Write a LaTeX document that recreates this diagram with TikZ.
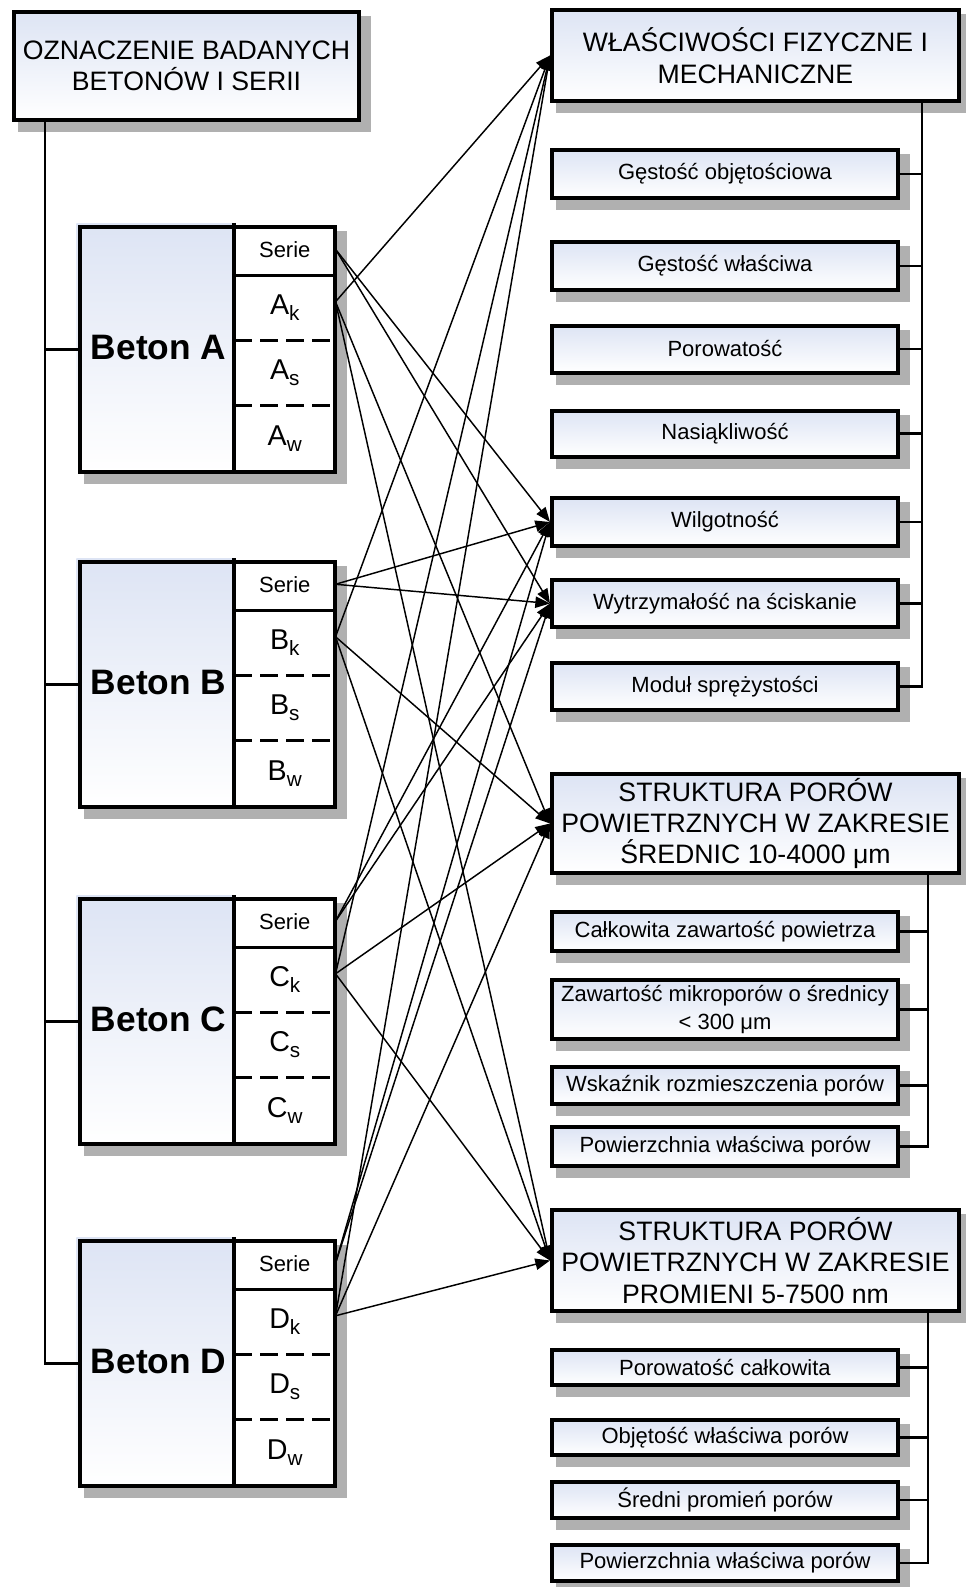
\documentclass[tikz,border=0pt]{standalone}
\usepackage{fontspec}
\setmainfont{Liberation Sans}
\usetikzlibrary{arrows.meta,calc,backgrounds}
\definecolor{boxtop}{RGB}{221,228,244}
\definecolor{shadowgray}{RGB}{176,176,176}
% lowered series index (k, s, w)
\newcommand\seriesidx[1]{\raisebox{-0.4ex}{\fontsize{15.5}{15.5}\selectfont #1}}

\begin{document}
\begin{tikzpicture}[x=0.75pt,y=-0.75pt,
  sz/.style 2 args={minimum width={(#1-4)*0.75pt},minimum height={(#2-4)*0.75pt}},
  frame/.style={draw=black,line width=3pt,inner sep=0pt},
  grad/.style={top color=boxtop,bottom color=white},
  head/.style={frame,grad,sz={411}{#1},align=center,font=\fontsize{20}{23.6}\selectfont},
  item/.style={frame,grad,sz={350}{#1},align=center,font=\fontsize{16.5}{20.6}\selectfont},
  cell/.style={fill=white,inner sep=0pt,anchor=north west},
  link/.style={line width=1.1pt,-{Triangle[length=11pt,width=8.5pt]}},
  tree/.style={line width=1.6pt},
  divide/.style={line width=2.3pt},
  dashdiv/.style={line width=1.8pt,dash pattern=on 13.5pt off 6pt},
]
\useasboundingbox (0,0) rectangle (965,1587);

% title box
\node[frame,grad,sz={349}{112},align=center,font=\fontsize{20}{23.6}\selectfont]
  (title) at (186.5,66) {OZNACZENIE BADANYCH\\BETONÓW I SERII};

% concrete boxes with their series cells
\foreach \L/\T in {A/223,B/558,C/895,D/1237}{
  \node[grad,inner sep=0pt,minimum width=158*0.75pt,minimum height=249*0.75pt,anchor=north west]
    (lab\L) at (76,\T) {\fontsize{26.5}{30}\selectfont\bfseries\hspace*{5pt}Beton \L};
  \node[cell,minimum width=101*0.75pt,minimum height=52*0.75pt,font=\fontsize{16.5}{20}\selectfont]
    (ser\L) at (234,\T) {Serie};
  \node[cell,minimum width=101*0.75pt,minimum height=65*0.75pt,font=\fontsize{21.5}{24}\selectfont]
    (k\L) at (234,\T+52) {\L\seriesidx{k}};
  \node[cell,minimum width=101*0.75pt,minimum height=65*0.75pt,font=\fontsize{21.5}{24}\selectfont]
    (s\L) at (234,\T+117) {\L\seriesidx{s}};
  \node[cell,minimum width=101*0.75pt,minimum height=67*0.75pt,font=\fontsize{21.5}{24}\selectfont]
    (w\L) at (234,\T+182) {\L\seriesidx{w}};
  \node[frame,minimum width=255*0.75pt,minimum height=245*0.75pt,anchor=north west]
    (bet\L) at (78,\T+2) {};
  \draw[divide] (ser\L.north west) -- (w\L.south west);
  \draw[divide] (ser\L.south west) -- (ser\L.south east);
  \draw[dashdiv] (k\L.south west) -- (k\L.south east);
  \draw[dashdiv] (s\L.south west) -- (s\L.south east);
}

% physical and mechanical properties
\node[head=95] (wl) at (755.5,55.5) {WŁAŚCIWOŚCI FIZYCZNE I\\MECHANICZNE};
\node[item=52] (gob) at (725,174) {Gęstość objętościowa};
\node[item=52] (gwl) at (725,266) {Gęstość właściwa};
\node[item=51] (por) at (725,349) {Porowatość};
\node[item=50] (nas) at (725,433.5) {Nasiąkliwość};
\node[item=52] (wil) at (725,522) {Wilgotność};
\node[item=51] (wyt) at (725,603.5) {Wytrzymałość na ściskanie};
\node[item=51] (mod) at (725,686.5) {Moduł sprężystości};

% air-void structure, 10-4000 um
\node[head=103] (str1) at (755.5,823.5) {STRUKTURA PORÓW\\POWIETRZNYCH W ZAKRESIE\\ŚREDNIC 10-4000 μm};
\node[item=43] (cal) at (725,931.5) {Całkowita zawartość powietrza};
\node[item=63] (zaw) at (725,1009.5) {Zawartość mikroporów o średnicy\\< 300 μm};
\node[item=41] (wsk) at (725,1085.5) {Wskaźnik rozmieszczenia porów};
\node[item=43] (pwa) at (725,1146.5) {Powierzchnia właściwa porów};

% pore structure, 5-7500 nm
\node[head=105] (str2) at (755.5,1260.5) {STRUKTURA PORÓW\\POWIETRZNYCH W ZAKRESIE\\PROMIENI 5-7500 nm};
\node[item=39] (pc) at (725,1367.5) {Porowatość całkowita};
\node[item=39] (obj) at (725,1437.5) {Objętość właściwa porów};
\node[item=40] (sre) at (725,1500) {Średni promień porów};
\node[item=40] (pwb) at (725,1563) {Powierzchnia właściwa porów};

% drop shadows
\begin{scope}[on background layer]
  \foreach \n in {title,betA,betB,betC,betD,wl,gob,gwl,por,nas,wil,wyt,mod,
                  str1,cal,zaw,wsk,pwa,str2,pc,obj,sre,pwb}{
    \fill[shadowgray] ($(\n.north west)+(6,6)$) rectangle ($(\n.south east)+(10,10)$);
  }
\end{scope}

% left tree
\coordinate (trunk) at (45,0);
\draw[tree] (title.south -| trunk) |- (betD.west);
\foreach \L in {A,B,C}{
  \draw[tree] (trunk |- bet\L.west) -- (bet\L.west);
}

% right trees
\coordinate (g1) at (922,0);
\coordinate (g2) at (928,0);
\draw[tree] (wl.south -| g1) |- (mod.east);
\foreach \n in {gob,gwl,por,nas,wil,wyt}{
  \draw[tree] (\n.east) -- (\n.east -| g1);
}
\draw[tree] (str1.south -| g2) |- (pwa.east);
\foreach \n in {cal,zaw,wsk}{
  \draw[tree] (\n.east) -- (\n.east -| g2);
}
\draw[tree] (str2.south -| g2) |- (pwb.east);
\foreach \n in {pc,obj,sre}{
  \draw[tree] (\n.east) -- (\n.east -| g2);
}

% series to tested properties
\foreach \L in {A,B,C,D}{
  \draw[link] (ser\L.east) -- (wil.west);
  \draw[link] (ser\L.east) -- (wyt.west);
  \draw[link] ([yshift=4.5pt]k\L.east) -- (wl.west);
  \draw[link] ([yshift=4.5pt]k\L.east) -- (str1.west);
  \draw[link] ([yshift=4.5pt]k\L.east) -- (str2.west);
}
\end{tikzpicture}
\end{document}
